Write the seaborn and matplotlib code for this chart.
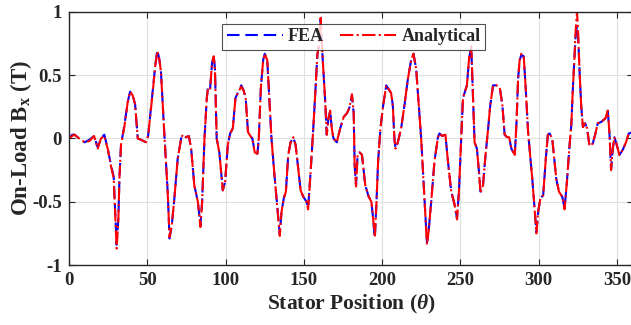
import numpy as np
import pandas as pd
import matplotlib
matplotlib.use("Agg")
import matplotlib.pyplot as plt
import seaborn as sns

# ---- data ----
position = [0, 2, 3.5, 6.5, 10, 13, 16, 18.3, 20.4, 22.5, 24.7, 26.8, 28.5, 29.5, 30.4, 31.5, 32.2, 33.2,
            35.3, 37.5, 39, 40.7, 42.2, 43.9, 46, 49.2, 50.5, 53.4, 55.1, 56.4, 57.6, 58.7, 60.8, 63, 64.2,
            65.6, 67.3, 69.4, 71.6, 72.6, 74.8, 76.5, 78, 80, 82.3, 83.9, 85, 86.5, 88, 88.7, 90, 91.3,
            92.4, 93.2, 94.3, 96, 98.2, 99.7, 101.4, 102.9, 104.6, 106.3, 107.8, 110, 111.5, 112.8, 114.3,
            115.8, 117.1, 118.6, 120.3, 121.2, 122.5, 124, 125, 126.6, 127.8, 129.3, 131, 132.5, 133.6,
            134.6, 135.7, 137.2, 138.5, 140, 141.5, 143.2, 144.7, 146.4, 147.9, 149.6, 151.7, 152.7, 154.3,
            155.6, 157.1, 158.6, 159.9, 160.7, 162, 163.5, 164.6, 165.7, 166.8, 167.8, 168.9, 171, 173.2,
            175.4, 177.5, 179, 180.7, 181.8, 182.4, 183.3, 184.3, 185.6, 187.1, 189.2, 191.4, 193.1, 194.2,
            195.3, 196.3, 197.4, 198.9, 200.6, 202.6, 203.6, 205.7, 206.8, 207.8, 208.5, 210, 212.1, 214.2,
            216.4, 218.5, 220, 221.7, 223.4, 224.9, 226.4, 227.7, 228.6, 229.6, 231.3, 233.4, 235.6, 236.6,
            238.3, 240.4, 242, 244.1, 246.2, 247.8, 249, 250.5, 251.6, 252.6, 254.1, 255.6, 256.9, 258,
            259, 260.5, 261.8, 262.8, 264.4, 266, 267.6, 269, 270.8, 272.9, 275, 276.8, 278.2, 279.8, 281.1,
            282.5, 284.7, 285.8, 286.8, 287.8, 288.9, 290.4, 291.7, 293.2, 294.7, 296, 297.1, 298.5, 299.6,
            301.1, 302.8, 304.5, 305.8, 306.9, 308.6, 309.5, 311.2, 312.9, 315, 316.5, 318, 319.7, 320.8,
            321.8, 322.8, 323.5, 324.4, 325, 326, 327.1, 328.2, 329.6, 330.9, 332.4, 334.5, 336.2, 337.7,
            339.8, 342.6, 344.1, 345.2, 346.2, 347.3, 348.3, 349.8, 351.5, 353.6, 355.7, 357.5, 360]

fea = [0.00, 0.03, 0.03, 0.00, -0.03, -0.01, 0.02, -0.07, 0.00, 0.03, -0.08, -0.21, -0.30, -0.58, -0.84, -0.63, -0.31, -0.05,
       0.10, 0.29, 0.37, 0.34, 0.27, 0.00, -0.01, -0.03, 0.02, 0.37, 0.58, 0.70, 0.63, 0.53, 0.05, -0.42, -0.79,
       -0.69, -0.47, -0.16, 0.00, 0.03, 0.01, 0.02, -0.08, -0.37, -0.50, -0.69, -0.50, 0.00, 0.32, 0.40, 0.38, 0.59,
       0.66, 0.55, 0.00, -0.11, -0.41, -0.34, -0.05, 0.04, 0.08, 0.32, 0.36, 0.42, 0.38, 0.32, 0.05,
       0.02, 0.00, -0.11, -0.12, 0.00, 0.40, 0.62, 0.67, 0.62, 0.34, 0.00, -0.26, -0.47, -0.63,
       -0.76, -0.58, -0.47, -0.42, -0.13, -0.03, 0.01, -0.05, -0.24, -0.41, -0.46, -0.50, -0.55, -0.26,
       0.00, 0.32, 0.66, 0.76, 0.94, 0.63, 0.32, 0.03, 0.16, 0.22, 0.08, 0.00, -0.03, 0.08,
       0.17, 0.20, 0.24, 0.34, 0.20, -0.21, -0.37, -0.13, -0.11, -0.13, -0.37, -0.46, -0.50, -0.63,
       -0.79, -0.52, -0.18, 0.08, 0.26, 0.42, 0.40, 0.36, 0.26, 0.00, -0.08, -0.03, 0.08, 0.26,
       0.47, 0.62, 0.67, 0.55, 0.26, 0.00, -0.34, -0.63, -0.82, -0.74, -0.50, -0.18, 0.01, 0.04,
       0.02, 0.03, -0.18, -0.42, -0.52, -0.63, -0.42, 0.00, 0.32, 0.36, 0.42, 0.64, 0.72, 0.32,
       -0.03, -0.08, -0.26, -0.42, -0.37, -0.13, 0.07, 0.26, 0.42, 0.42, 0.41, 0.26, 0.03, 0.01, 0.01,
       -0.08, -0.13, 0.13, 0.47, 0.62, 0.66, 0.65, 0.39, 0.05, -0.16, -0.34, -0.52, -0.74, -0.58,
       -0.47, -0.45, -0.16, 0.03, 0.04, 0.00, -0.11, -0.32, -0.42, -0.46, -0.55, -0.34, -0.05, 0.11,
       0.40, 0.63, 0.80, 0.89, 0.85, 0.55, 0.26, 0.09, 0.12, 0.08, -0.06, -0.04, 0.04, 0.12,
       0.13, 0.16, 0.22, 0.03, -0.24, -0.08, 0.01, -0.05, -0.13, -0.09, -0.03, 0.04, 0.05]

analytical = [0.00, 0.02, 0.03, 0.00, -0.03, -0.02, 0.02, -0.08, 0.00, 0.02, -0.08, -0.22, -0.31, -0.60, -0.87, -0.64, -0.31, -0.05,
              0.09, 0.29, 0.37, 0.34, 0.27, 0.00, -0.01, -0.03, 0.02, 0.36, 0.58, 0.69, 0.63, 0.53, 0.05, -0.42, -0.78,
              -0.69, -0.47, -0.16, 0.00, 0.03, 0.01, 0.02, -0.08, -0.37, -0.50, -0.70, -0.50, 0.00, 0.32, 0.39, 0.38, 0.59,
              0.65, 0.55, 0.00, -0.11, -0.41, -0.34, -0.05, 0.04, 0.08, 0.32, 0.36, 0.41, 0.38, 0.32, 0.05,
              0.02, 0.00, -0.11, -0.12, 0.00, 0.40, 0.62, 0.67, 0.62, 0.34, 0.00, -0.26, -0.47, -0.63,
              -0.77, -0.58, -0.47, -0.42, -0.13, -0.03, 0.01, -0.05, -0.24, -0.41, -0.46, -0.50, -0.56, -0.26,
              0.00, 0.32, 0.66, 0.77, 0.97, 0.63, 0.32, 0.03, 0.16, 0.22, 0.08, 0.00, -0.03, 0.08,
              0.17, 0.20, 0.24, 0.35, 0.20, -0.21, -0.38, -0.13, -0.11, -0.13, -0.37, -0.46, -0.50, -0.63,
              -0.78, -0.52, -0.18, 0.08, 0.26, 0.42, 0.40, 0.36, 0.26, 0.00, -0.08, -0.03, 0.08, 0.26,
              0.47, 0.62, 0.67, 0.55, 0.26, 0.00, -0.34, -0.63, -0.84, -0.74, -0.50, -0.18, 0.01, 0.04,
              0.02, 0.03, -0.18, -0.42, -0.52, -0.64, -0.42, 0.00, 0.32, 0.36, 0.42, 0.65, 0.73, 0.32,
              -0.03, -0.08, -0.26, -0.43, -0.37, -0.13, 0.07, 0.26, 0.42, 0.42, 0.41, 0.26, 0.03, 0.01, 0.01,
              -0.08, -0.13, 0.13, 0.47, 0.62, 0.67, 0.65, 0.39, 0.05, -0.16, -0.34, -0.52, -0.75, -0.58,
              -0.47, -0.45, -0.16, 0.03, 0.04, 0.00, -0.11, -0.32, -0.42, -0.46, -0.56, -0.34, -0.05, 0.11,
              0.40, 0.64, 0.84, 1.00, 0.88, 0.55, 0.26, 0.09, 0.12, 0.08, -0.06, -0.04, 0.04, 0.12,
              0.13, 0.16, 0.22, 0.03, -0.25, -0.08, 0.01, -0.05, -0.13, -0.09, -0.03, 0.04, 0.05]

x_ticks = [0, 50, 100, 150, 200, 250, 300, 350]
y_ticks = [-1, -0.5, 0, 0.5, 1]
y_tick_labels = ["-1", "-0.5", "0", "0.5", "1"]

# ---- style ----
sns.set_style("ticks")
plt.rcParams["font.family"] = ["Liberation Serif", "DejaVu Serif"]
plt.rcParams["font.weight"] = "bold"
plt.rcParams["axes.labelweight"] = "bold"
plt.rcParams["mathtext.fontset"] = "custom"
plt.rcParams["mathtext.rm"] = "Liberation Serif:bold"
plt.rcParams["mathtext.it"] = "Liberation Serif:italic:bold"
plt.rcParams["mathtext.bf"] = "Liberation Serif:bold"
plt.rcParams["axes.unicode_minus"] = False

fig = plt.figure(figsize=(6.31, 3.25), dpi=100)
ax = fig.add_axes([0.1094, 0.1846, 0.8933, 0.7785])

df = pd.DataFrame({"pos": position, "fea": fea, "analytical": analytical})
sns.lineplot(data=df, x="pos", y="fea", ax=ax, color="#0000ff", linestyle=(0, (6, 2.8)),
             linewidth=1.5, label="FEA", sort=False)
sns.lineplot(data=df, x="pos", y="analytical", ax=ax, color="#ff0000", linestyle="-.",
             linewidth=1.5, label="Analytical", sort=False)

ax.set_xlim(0, 360)
ax.set_ylim(-1, 1)
ax.set_xticks(x_ticks)
ax.set_yticks(y_ticks)
ax.set_yticklabels(y_tick_labels)
ax.grid(True, color="#e0e0e0", linewidth=0.8)
ax.set_axisbelow(True)
ax.tick_params(direction="in", top=True, right=True, length=4, width=0.8,
               labelsize=13.5, pad=5)
for lab in ax.get_xticklabels() + ax.get_yticklabels():
    lab.set_fontweight("bold")
for s in ax.spines.values():
    s.set_visible(True)
    s.set_color("#262626")
    s.set_linewidth(1.0)

ax.set_xlabel(r"Stator Position ($\theta$)", fontsize=15.5, fontweight="bold", labelpad=3)
ax.set_ylabel(r"On-Load B$_\mathbf{x}$ (T)", fontsize=16.5, fontweight="bold", labelpad=-1)

leg = ax.legend(loc="upper center", bbox_to_anchor=(0.505, 0.99), ncol=2, frameon=True,
                fancybox=False, edgecolor="#262626", handlelength=3.1, columnspacing=0.9,
                borderpad=0.25, handletextpad=0.3, prop={"size": 13, "weight": "bold"})
leg.get_frame().set_linewidth(0.8)

fig.savefig("out.png", dpi=100)
